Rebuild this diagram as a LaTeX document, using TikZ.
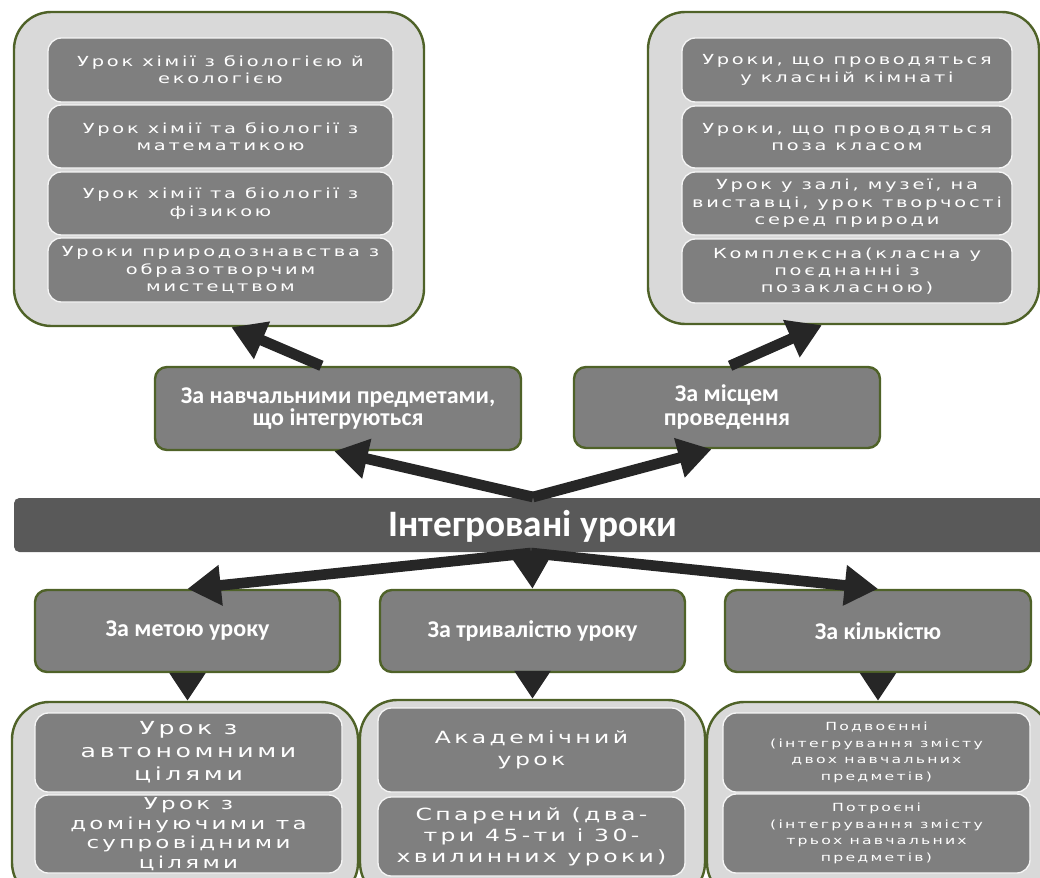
\documentclass[tikz,border=0pt]{standalone}
\usepackage{fontspec}
\setmainfont{Carlito}
\newfontfamily\cellfont[FakeStretch=1.4,LetterSpace=20]{DejaVu Sans}
\usetikzlibrary{arrows.meta,calc}
\definecolor{olivec}{HTML}{4F6228}
\definecolor{outerfill}{HTML}{D9D9D9}
\definecolor{boxgray}{HTML}{7F7F7F}
\definecolor{bargray}{HTML}{595959}
\definecolor{arrowc}{HTML}{262626}
\newcommand{\mkbox}[7]{\node[#1, minimum width={(#5-#3)*0.75pt}, minimum height={(#6-#4)*0.75pt}] (#2) at ({(#3+#5)/2},{(#4+#6)/2}) {#7};}
\tikzset{
  outerbox/.style={draw=olivec, line width=1.8pt, fill=outerfill, rounded corners=28pt, inner sep=0pt},
  cell/.style={draw=white!92!gray, line width=1pt, fill=boxgray, rounded corners=10pt, inner sep=0pt,
    text=white, align=center, font=\cellfont\fontsize{10.4}{13}\selectfont},
  cat/.style={draw=olivec, line width=1.8pt, fill=boxgray, rounded corners=9pt, inner sep=0pt,
    text=white, align=center, font=\bfseries\fontsize{18}{16.5}\selectfont},
  bar/.style={fill=bargray, rounded corners=4pt, inner sep=0pt},
  bartext/.style={text=white, font=\bfseries\fontsize{28}{30}\selectfont},
  bigarrow/.style={draw=arrowc, line width=8pt, -{Triangle[length=25pt,width=29pt]}},
  smallarrow/.style={draw=arrowc, line width=8pt, -{Triangle[length=21pt,width=26pt]}},
}
\begin{document}
\begin{tikzpicture}[x=0.75pt,y=-0.75pt]
\clip (0,0) rectangle (1040,878);
% outer containers
\mkbox{outerbox}{otl}{14}{12}{424}{326}{}
\mkbox{outerbox}{otr}{648}{12}{1039}{324}{}
\mkbox{outerbox}{obl}{12}{702}{358}{900}{}
\mkbox{outerbox}{obm}{360}{700}{705}{900}{}
\mkbox{outerbox}{obr}{707}{702}{1050}{900}{}
% top-left cells
\mkbox{cell}{tl1}{48}{38}{393}{102}{Урок хімії з біологією й\\екологією}
\mkbox{cell}{tl2}{48}{105}{393}{168}{Урок хімії та біології з\\математикою}
\mkbox{cell}{tl3}{48}{172}{393}{235}{Урок хімії та біології з\\фізикою}
\mkbox{cell}{tl4}{48}{238}{393}{302}{Уроки природознавства з\\образотворчим\\мистецтвом}
% top-right cells
\mkbox{cell}{tr1}{682}{38}{1012}{102}{Уроки, що проводяться\\у класній кімнаті}
\mkbox{cell}{tr2}{682}{106}{1012}{168}{Уроки, що проводяться\\поза класом}
\mkbox{cell}{tr3}{682}{172}{1012}{235}{Урок у залі, музеї, на\\виставці, урок творчості\\серед природи}
\mkbox{cell}{tr4}{682}{239}{1012}{303}{Комплексна(класна у\\поєднанні з\\позакласною)}
% bottom cells
\mkbox{cell, font=\cellfont\fontsize{13.5}{17.3}\selectfont}{bl1}{35}{713}{342}{792}{Урок з\\автономними\\цілями}
\mkbox{cell, font=\cellfont\fontsize{12.3}{14.6}\selectfont}{bl2}{35}{795}{342}{873}{Урок з\\домінуючими та\\супровідними\\цілями}
\mkbox{cell, font=\cellfont\fontsize{12.6}{16}\selectfont}{bm1}{378}{708}{685}{792}{Академічний\\урок}
\mkbox{cell, font=\cellfont\fontsize{12.6}{15.8}\selectfont}{bm2}{378}{797}{685}{876}{Спарений (два-\\три 45-ти і 30-\\хвилинних уроки)}
\mkbox{cell, font=\cellfont\fontsize{8.4}{12.5}\selectfont}{br1}{723}{713}{1030}{792}{Подвоєнні\\(інтегрування змісту\\двох навчальних\\предметів)}
\mkbox{cell, font=\cellfont\fontsize{8.4}{12.5}\selectfont}{br2}{723}{794}{1030}{873}{Потроєні\\(інтегрування змісту\\трьох навчальних\\предметів)}
% category boxes
\mkbox{cat}{subj}{155}{367}{521}{450}{За навчальними предметами,\\що інтегруються}
\mkbox{cat, font=\bfseries\fontsize{18}{18}\selectfont}{place}{574}{367}{880}{448}{За місцем\\проведення}
\mkbox{cat}{goal}{35}{590}{340}{672}{За метою уроку}
\mkbox{cat}{dur}{380}{590}{685}{672}{За тривалістю уроку}
\mkbox{cat}{qty}{725}{590}{1031}{672}{За кількістю}
% central bar
\mkbox{bar}{core}{14}{498}{1050}{552}{}
\node[bartext] (coret) at (533,526) {Інтегровані уроки};
\coordinate (ctop) at (533,497);
\coordinate (cbot) at (531,553);
% arrows
\draw[bigarrow] (ctop) -- ($(subj.south west)!0.49!(subj.south east)$);
\draw[bigarrow] (ctop) -- ($(place.south west)!0.45!(place.south east)$);
\draw[bigarrow] ($(subj.north west)!0.455!(subj.north east)$) -- ($(otl.south west)!0.53!(otl.south east)$);
\draw[bigarrow] ($(place.north west)!0.51!(place.north east)$) -- ($(otr.south west)!0.445!(otr.south east)$);
\draw[bigarrow] (cbot) -- (goal.north);
\draw[bigarrow] (cbot) -- (dur.north);
\draw[bigarrow] (cbot) -- (qty.north);
\draw[smallarrow] (goal.south) -- (goal.south |- obl.north);
\draw[smallarrow] (dur.south) -- (dur.south |- obm.north);
\draw[smallarrow] (qty.south) -- (qty.south |- obr.north);
\end{tikzpicture}
\end{document}
